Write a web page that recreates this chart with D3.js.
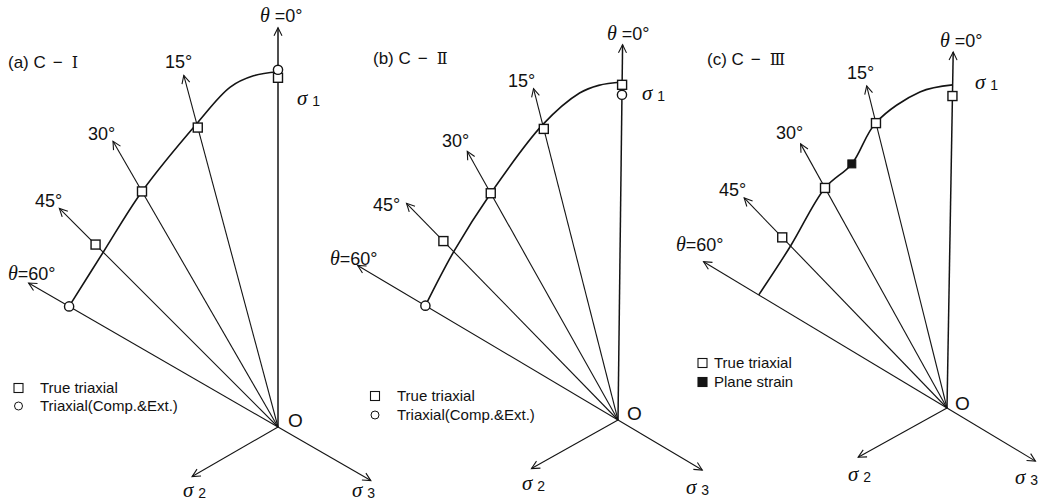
<!DOCTYPE html>
<html>
<head>
<meta charset="utf-8">
<script src="https://cdn.jsdelivr.net/npm/d3@7"></script>
<style>
  html, body { margin: 0; padding: 0; background: #fff; }
  svg { display: block; }
  text { font-family: "Liberation Sans", Arial, sans-serif; fill: #111; }
</style>
</head>
<body>
<svg id="chart" width="1051" height="504"></svg>
<script>
// Lode angles of the stress paths (degrees, measured from the σ1 axis)
const rayAngles = [0, 15, 30, 45, 60];
const rayLabels = ["θ =0°", "15°", "30°", "45°", "θ=60°"];
const squareAngles = [0, 15, 30, 45];

// (a) C-I : normalised deviatoric radius at failure
const trueTriaxialA = [0.873, 0.775, 0.680, 0.645];
const compExtA_theta = [0, 60];
const compExtA_r = [0.893, 0.603];
const envelopeA_theta = [0, 4, 8, 15, 30, 45, 60];
const envelopeA_r = [0.888, 0.880, 0.858, 0.785, 0.680, 0.618, 0.603];

// (b) C-II
const trueTriaxialB = [0.838, 0.751, 0.650, 0.625];
const compExtB_theta = [0, 60];
const compExtB_r = [0.813, 0.560];
const envelopeB_theta = [0, 4, 7.4, 15, 30, 45, 60];
const envelopeB_r = [0.845, 0.838, 0.823, 0.762, 0.650, 0.588, 0.560];

// (c) C-III
const trueTriaxialC = [0.780, 0.734, 0.629, 0.593];
const planeStrainC_theta = [22.3];
const planeStrainC_r = [0.655];
const envelopeC_theta = [0, 5.9, 15, 22.3, 30, 45, 60];
const envelopeC_r = [0.808, 0.793, 0.735, 0.655, 0.629, 0.563, 0.549];

const zip = (t, r) => t.map((d, i) => ({ theta: d, r: r[i] }));

// radius scale: normalised radius -> pixels
const rScale = d3.scaleLinear().domain([0, 1]).range([0, 400]);

const panels = [
  {
    title: ["(a) C", "−", "Ⅰ"], titlePos: [8, 68],
    origin: [278, 427], rot: 0,
    rayLen: [0.998, 0.91, 0.825, 0.773, 0.72], sigLen: [0.248, 0.268],
    rayLabelPos: [[260, 22], [165, 68], [88, 140], [35, 207], [8, 280]],
    s1Pos: [297, 105], oPos: [288, 427], s2Pos: [183, 497], s3Pos: [352, 497],
    envelope: zip(envelopeA_theta, envelopeA_r),
    squares: zip(squareAngles, trueTriaxialA),
    circles: zip(compExtA_theta, compExtA_r),
    filled: [],
    legend: { x: 18.5, tx: 40, ys: [388, 406], labels: ["True triaxial", "Triaxial(Comp.&Ext.)"], kinds: ["square", "circle"] }
  },
  {
    title: ["(b) C", "−", "Ⅱ"], titlePos: [373, 64],
    origin: [618, 420], rot: 0.7,
    rayLen: [0.938, 0.855, 0.77, 0.757, 0.757], sigLen: [0.248, 0.245],
    rayLabelPos: [[607, 40], [508, 87], [442, 147], [373, 211], [330, 265]],
    s1Pos: [642, 100], oPos: [627, 420], s2Pos: [522, 490], s3Pos: [686, 494],
    envelope: zip(envelopeB_theta, envelopeB_r),
    squares: zip(squareAngles, trueTriaxialB),
    circles: zip(compExtB_theta, compExtB_r),
    filled: [],
    legend: { x: 375, tx: 397, ys: [396, 415], labels: ["True triaxial", "Triaxial(Comp.&Ext.)"], kinds: ["square", "circle"] }
  },
  {
    title: ["(c) C", "−", "Ⅲ"], titlePos: [707, 65],
    origin: [947, 408], rot: 1.0,
    rayLen: [0.89, 0.83, 0.755, 0.73, 0.71], sigLen: [0.254, 0.258],
    rayLabelPos: [[940, 47], [847, 79], [776, 139], [719, 196], [676, 251]],
    s1Pos: [975, 89], oPos: [955, 410], s2Pos: [848, 481], s3Pos: [1015, 484],
    envelope: zip(envelopeC_theta, envelopeC_r),
    squares: zip(squareAngles, trueTriaxialC),
    circles: [],
    filled: zip(planeStrainC_theta, planeStrainC_r),
    legend: { x: 702.5, tx: 714, ys: [363, 382], labels: ["True triaxial", "Plane strain"], kinds: ["square", "filled"] }
  }
];

const svg = d3.select("#chart");
const ink = "#141414";

// open V arrowhead
svg.append("defs").append("marker")
  .attr("id", "arrow")
  .attr("viewBox", "-10 -6 12 12")
  .attr("refX", 0).attr("refY", 0)
  .attr("markerWidth", 12).attr("markerHeight", 12)
  .attr("markerUnits", "userSpaceOnUse")
  .attr("orient", "auto")
  .append("path")
  .attr("d", "M-8,-4 L0,0 L-8,4")
  .attr("fill", "none").attr("stroke", ink).attr("stroke-width", 1.1);

function drawPanel(p) {
  const [ox, oy] = p.origin;
  // screen position of a point given Lode angle (ccw from σ1) and radius
  const pos = (theta, r) => {
    const a = (theta - p.rot) * Math.PI / 180;
    const R = rScale(r);
    return [ox - R * Math.sin(a), oy - R * Math.cos(a)];
  };

  const g = svg.append("g");

  // stress-path rays with arrows
  rayAngles.forEach((th, i) => {
    const [x2, y2] = pos(th, p.rayLen[i]);
    g.append("line")
      .attr("x1", ox).attr("y1", oy).attr("x2", x2).attr("y2", y2)
      .attr("stroke", ink).attr("stroke-width", th === 0 ? 1.5 : 1.1)
      .attr("marker-end", "url(#arrow)");
  });

  // σ2 and σ3 projected axes
  [[120, p.sigLen[0]], [-120, p.sigLen[1]]].forEach(([th, len]) => {
    const [x2, y2] = pos(th, len);
    g.append("line")
      .attr("x1", ox).attr("y1", oy).attr("x2", x2).attr("y2", y2)
      .attr("stroke", ink).attr("stroke-width", 1.1)
      .attr("marker-end", "url(#arrow)");
  });

  // failure envelope
  const radial = d3.lineRadial()
    .angle(d => -(d.theta - p.rot) * Math.PI / 180)
    .radius(d => rScale(d.r))
    .curve(d3.curveCatmullRom.alpha(0.5));
  g.append("path")
    .attr("transform", `translate(${ox},${oy})`)
    .attr("d", radial(p.envelope))
    .attr("fill", "none").attr("stroke", ink).attr("stroke-width", 1.6);

  // markers
  const sq = 9;
  g.selectAll(null).data(p.squares).join("rect")
    .attr("x", d => pos(d.theta, d.r)[0] - sq / 2)
    .attr("y", d => pos(d.theta, d.r)[1] - sq / 2)
    .attr("width", sq).attr("height", sq)
    .attr("fill", "#fff").attr("stroke", ink).attr("stroke-width", 1.4);
  g.selectAll(null).data(p.circles).join("circle")
    .attr("cx", d => pos(d.theta, d.r)[0])
    .attr("cy", d => pos(d.theta, d.r)[1])
    .attr("r", 4.6)
    .attr("fill", "#fff").attr("stroke", ink).attr("stroke-width", 1.4);
  g.selectAll(null).data(p.filled).join("rect")
    .attr("x", d => pos(d.theta, d.r)[0] - 4)
    .attr("y", d => pos(d.theta, d.r)[1] - 4)
    .attr("width", 8).attr("height", 8)
    .attr("fill", ink).attr("stroke", ink).attr("stroke-width", 1);

  // title: "(x) C − numeral"
  const t = g.append("text").attr("x", p.titlePos[0]).attr("y", p.titlePos[1])
    .attr("font-size", 17);
  t.append("tspan").text(p.title[0]);
  t.append("tspan").attr("dx", 7).text(p.title[1]);
  t.append("tspan").attr("dx", 9)
    .attr("font-family", "'DejaVu Serif', 'Liberation Serif', serif")
    .attr("font-size", 16).text(p.title[2]);

  // ray labels
  rayLabels.forEach((lab, i) => {
    const [lx, ly] = p.rayLabelPos[i];
    const tx = g.append("text").attr("x", lx).attr("y", ly).attr("font-size", 18);
    if (lab.startsWith("θ")) {
      tx.append("tspan").attr("font-family", "'Liberation Serif', serif")
        .attr("font-style", "italic").attr("font-size", 20).text("θ");
      tx.append("tspan").text(lab.slice(1));
    } else {
      tx.text(lab);
    }
  });

  // axis names
  const sigma = (xy, sub) => {
    const s = g.append("text").attr("x", xy[0]).attr("y", xy[1]);
    s.append("tspan").attr("font-family", "'Liberation Serif', serif")
      .attr("font-style", "italic").attr("font-size", 21).text("σ");
    s.append("tspan").attr("dx", 5).attr("dy", 1).attr("font-size", 14).text(sub);
  };
  sigma(p.s1Pos, "1");
  sigma(p.s2Pos, "2");
  sigma(p.s3Pos, "3");
  g.append("text").attr("x", p.oPos[0]).attr("y", p.oPos[1])
    .attr("font-size", 19).text("O");

  // legend
  const L = p.legend;
  L.kinds.forEach((k, i) => {
    const y = L.ys[i];
    if (k === "circle") {
      g.append("circle").attr("cx", L.x).attr("cy", y).attr("r", 4)
        .attr("fill", "#fff").attr("stroke", ink).attr("stroke-width", 1);
    } else {
      g.append("rect").attr("x", L.x - 4.5).attr("y", y - 4.5)
        .attr("width", 9).attr("height", 9)
        .attr("fill", k === "filled" ? ink : "#fff")
        .attr("stroke", ink).attr("stroke-width", 1.1);
    }
    g.append("text").attr("x", L.tx).attr("y", y + 5)
      .attr("font-size", 15).text(L.labels[i]);
  });
}

panels.forEach(drawPanel);
</script>
</body>
</html>
